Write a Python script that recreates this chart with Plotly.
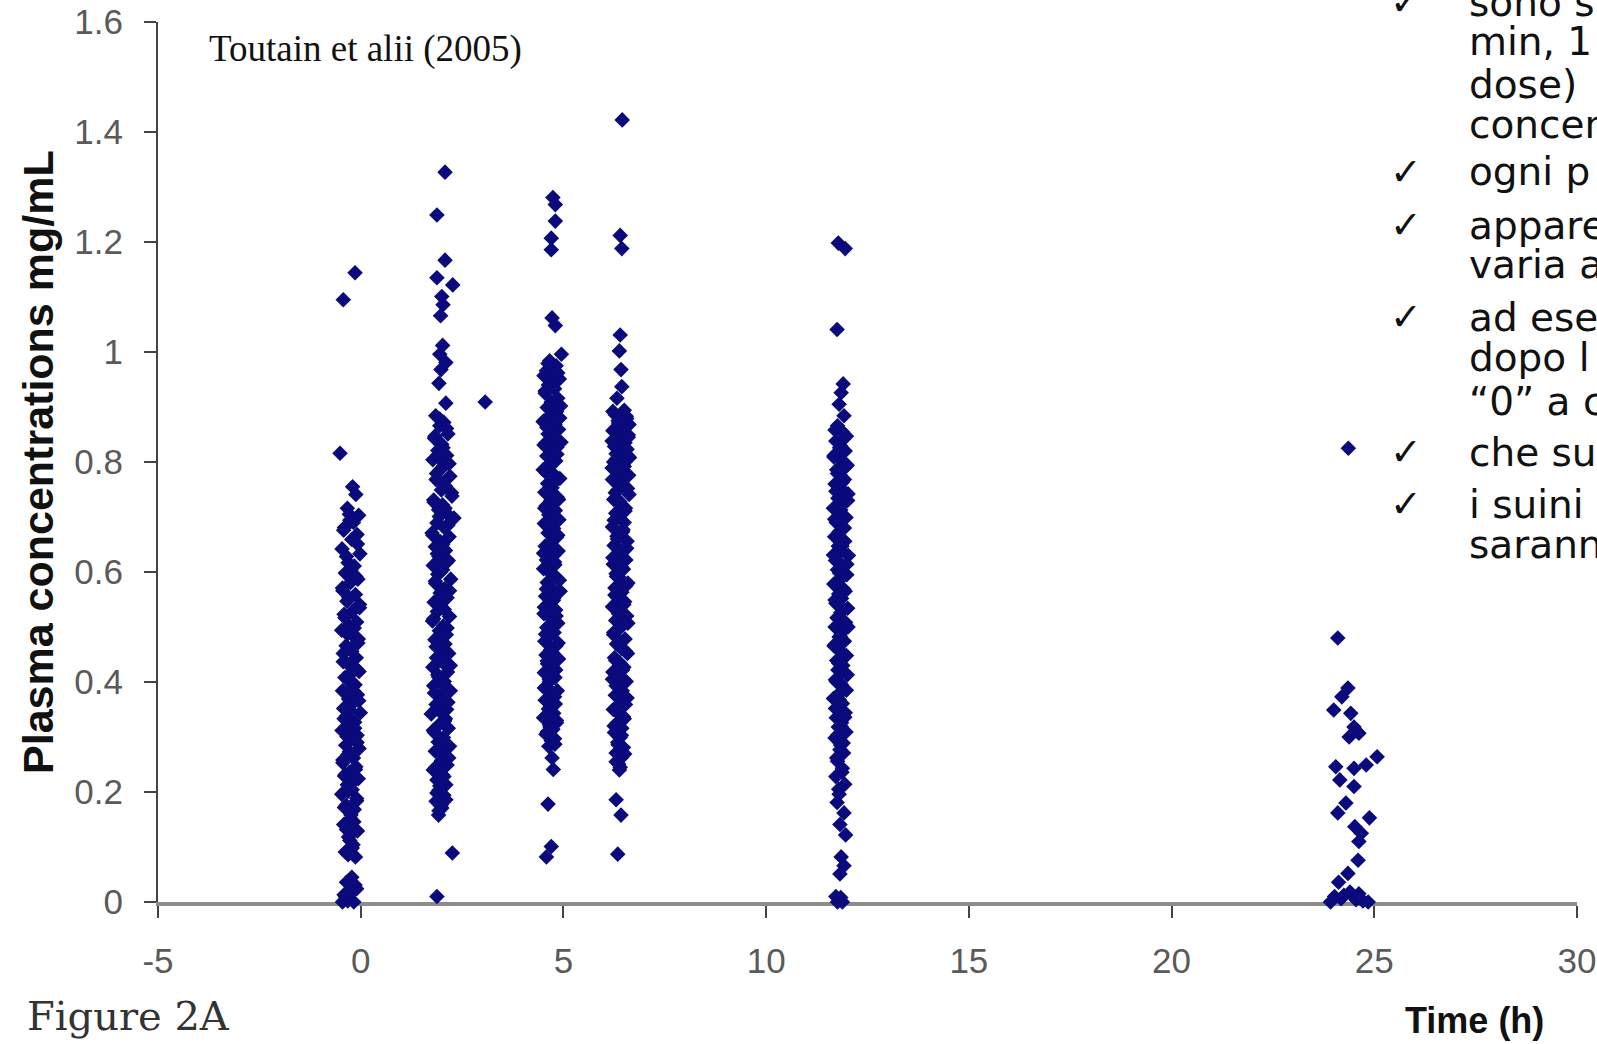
import plotly.graph_objects as go

# ---------------- data ----------------
A_time = [-0.14, -0.43, -0.51, -0.20, -0.12, -0.33, -0.05, -0.27, -0.40, -0.09,
          -0.22, -0.46, -0.02, -0.31, -0.16, -0.38, -0.07, -0.25, -0.44, -0.13,
          -0.34, -0.03, -0.21, -0.41, -0.10, -0.29, -0.47, -0.17, -0.06, -0.36,
          -0.24, -0.43, -0.11, -0.32, -0.19, -0.04, -0.39, -0.26, -0.14, -0.45,
          -0.08, -0.30, -0.20, -0.42, -0.01, -0.35, -0.15, -0.27, -0.46, -0.09,
          -0.23, -0.37, -0.04, -0.31, -0.18, -0.44, -0.12, -0.28, -0.40, -0.06,
          -0.33, -0.21, -0.47, -0.10, -0.36, -0.16, -0.25, -0.42, -0.08, -0.30,
          -0.19, -0.38, -0.13, -0.22, -0.35, -0.10, -0.41, -0.28, -0.17, -0.32,
          -0.45, -0.24, -0.37, -0.14]
A_conc = [1.144, 1.095, 0.816, 0.755, 0.741, 0.716, 0.703, 0.694, 0.681, 0.668,
          0.659, 0.642, 0.633, 0.617, 0.611, 0.598, 0.587, 0.581, 0.566, 0.559,
          0.547, 0.541, 0.528, 0.523, 0.509, 0.502, 0.494, 0.483, 0.478, 0.466,
          0.461, 0.452, 0.444, 0.433, 0.428, 0.419, 0.408, 0.401, 0.395, 0.384,
          0.377, 0.369, 0.361, 0.352, 0.344, 0.338, 0.327, 0.319, 0.312, 0.303,
          0.296, 0.285, 0.279, 0.268, 0.262, 0.253, 0.246, 0.236, 0.229, 0.224,
          0.213, 0.204, 0.196, 0.188, 0.176, 0.168, 0.152, 0.141, 0.129, 0.118,
          0.104, 0.091, 0.082, 0.045, 0.036, 0.024, 0.013, 0.006, 0.000, 0.002,
          0.000, 0.017, 0.009, 0.031]
A2_time = [-0.28, -0.18, -0.42, -0.08, -0.35, -0.24, -0.12, -0.45, -0.29, -0.03,
           -0.39, -0.16, -0.33, -0.07, -0.22, -0.43, -0.11, -0.30, -0.19, -0.37,
           -0.05, -0.26, -0.41, -0.15, -0.34, -0.09, -0.28, -0.44, -0.13, -0.38,
           -0.20, -0.32, -0.10, -0.40, -0.24, -0.17, -0.35, -0.27, -0.21, -0.31]
A2_conc = [0.705, 0.690, 0.676, 0.651, 0.628, 0.604, 0.592, 0.571, 0.553, 0.535,
           0.517, 0.498, 0.487, 0.471, 0.456, 0.437, 0.424, 0.411, 0.392, 0.381,
           0.366, 0.348, 0.333, 0.316, 0.301, 0.290, 0.273, 0.258, 0.241, 0.232,
           0.218, 0.201, 0.184, 0.172, 0.158, 0.146, 0.132, 0.112, 0.098, 0.086]

B_time = [2.08, 1.88, 2.08, 1.88, 2.27, 2.00, 2.03, 1.97, 2.02, 1.95,
          2.10, 1.98, 1.93, 2.10, 1.85, 2.05, 1.95, 2.15, 1.82, 2.00,
          1.90, 2.12, 1.78, 2.05, 1.96, 2.20, 1.86, 2.08, 1.99, 2.25,
          1.80, 2.02, 1.92, 2.14, 2.30, 1.88, 2.06, 1.76, 2.18, 1.97,
          1.84, 2.09, 1.93, 2.16, 1.79, 2.02, 1.90, 2.22, 1.85, 2.07,
          1.96, 2.13, 1.81, 2.00, 1.89, 2.19, 1.77, 2.04, 1.94, 2.11,
          1.83, 2.08, 1.98, 2.17, 1.87, 2.03, 1.78, 2.14, 1.92, 2.06,
          1.80, 2.21, 1.95, 2.01, 1.86, 2.12, 1.74, 2.09, 1.97, 2.16,
          1.82, 2.04, 1.91, 2.19, 1.84, 2.07, 1.99, 2.13, 1.79, 2.02,
          1.88, 2.10, 1.93, 2.05, 1.86, 2.00, 1.92, 2.26, 1.88]
B_conc = [1.327, 1.249, 1.167, 1.135, 1.122, 1.101, 1.086, 1.066, 1.012, 0.996,
          0.981, 0.968, 0.943, 0.907, 0.884, 0.872, 0.866, 0.851, 0.843, 0.832,
          0.821, 0.812, 0.804, 0.793, 0.786, 0.774, 0.768, 0.757, 0.749, 0.738,
          0.731, 0.722, 0.713, 0.705, 0.698, 0.689, 0.681, 0.671, 0.664, 0.655,
          0.646, 0.639, 0.628, 0.621, 0.612, 0.604, 0.596, 0.587, 0.579, 0.570,
          0.562, 0.553, 0.545, 0.536, 0.528, 0.519, 0.511, 0.502, 0.493, 0.486,
          0.477, 0.469, 0.460, 0.452, 0.444, 0.435, 0.427, 0.418, 0.409, 0.401,
          0.393, 0.384, 0.376, 0.367, 0.359, 0.350, 0.342, 0.333, 0.325, 0.316,
          0.308, 0.299, 0.291, 0.283, 0.274, 0.266, 0.257, 0.249, 0.240, 0.231,
          0.222, 0.213, 0.203, 0.194, 0.183, 0.171, 0.158, 0.089, 0.010]
B2_time = [1.95, 2.12, 1.83, 2.03, 1.91, 2.18, 1.87, 2.00, 2.24, 1.81,
           2.08, 1.94, 2.15, 1.78, 2.02, 1.89, 2.11, 1.97, 1.84, 2.19,
           1.93, 2.06, 1.80, 2.13, 1.98, 1.86, 2.09, 2.21, 1.90, 2.04,
           1.82, 2.15, 1.96, 2.07, 1.79, 2.01, 1.92, 2.17, 1.85, 2.05,
           1.95, 1.88, 2.10, 1.98, 1.93]
B2_conc = [0.878, 0.861, 0.847, 0.826, 0.809, 0.797, 0.779, 0.762, 0.744, 0.727,
           0.716, 0.701, 0.685, 0.667, 0.650, 0.633, 0.617, 0.600, 0.583, 0.566,
           0.549, 0.532, 0.515, 0.498, 0.481, 0.464, 0.447, 0.430, 0.413, 0.396,
           0.380, 0.363, 0.346, 0.329, 0.312, 0.295, 0.278, 0.262, 0.245, 0.228,
           0.211, 0.198, 0.186, 0.175, 0.166]

C_time = [4.74, 4.80, 4.80, 4.70, 4.70, 4.72, 4.80, 4.95, 4.66, 4.82,
          4.58, 4.75, 4.90, 4.63, 4.78, 4.55, 4.86, 4.70, 4.60, 4.83,
          4.67, 4.52, 4.79, 4.88, 4.62, 4.74, 4.56, 4.84, 4.69, 4.59,
          4.81, 4.65, 4.50, 4.77, 4.91, 4.61, 4.72, 4.54, 4.85, 4.68,
          4.57, 4.80, 4.64, 4.89, 4.53, 4.76, 4.62, 4.83, 4.70, 4.55,
          4.87, 4.66, 4.58, 4.79, 4.51, 4.73, 4.84, 4.60, 4.69, 4.92,
          4.56, 4.75, 4.63, 4.81, 4.52, 4.71, 4.86, 4.59, 4.77, 4.65,
          4.54, 4.82, 4.68, 4.57, 4.88, 4.61, 4.74, 4.53, 4.79, 4.66,
          4.58, 4.85, 4.70, 4.55, 4.80, 4.63, 4.76, 4.51, 4.83, 4.67,
          4.60, 4.78, 4.64, 4.72, 4.75, 4.62, 4.70, 4.58]
C_conc = [1.281, 1.268, 1.238, 1.207, 1.186, 1.062, 1.048, 0.996, 0.984, 0.975,
          0.966, 0.958, 0.951, 0.940, 0.933, 0.925, 0.916, 0.909, 0.899, 0.892,
          0.884, 0.875, 0.868, 0.859, 0.851, 0.843, 0.834, 0.827, 0.818, 0.811,
          0.802, 0.794, 0.786, 0.777, 0.770, 0.761, 0.753, 0.745, 0.736, 0.729,
          0.720, 0.712, 0.704, 0.695, 0.688, 0.679, 0.671, 0.663, 0.654, 0.647,
          0.638, 0.630, 0.622, 0.613, 0.606, 0.597, 0.589, 0.581, 0.572, 0.565,
          0.556, 0.548, 0.540, 0.531, 0.524, 0.515, 0.507, 0.499, 0.490, 0.483,
          0.474, 0.466, 0.458, 0.449, 0.442, 0.433, 0.425, 0.417, 0.408, 0.401,
          0.392, 0.384, 0.376, 0.367, 0.360, 0.351, 0.343, 0.335, 0.326, 0.318,
          0.309, 0.297, 0.283, 0.262, 0.241, 0.178, 0.101, 0.082]
C2_time = [4.62, 4.86, 4.71, 4.55, 4.79, 4.66, 4.91, 4.59, 4.75, 4.52,
           4.84, 4.68, 4.57, 4.80, 4.63, 4.88, 4.54, 4.73, 4.61, 4.86,
           4.69, 4.51, 4.78, 4.64, 4.90, 4.58, 4.76, 4.53, 4.82, 4.67,
           4.56, 4.87, 4.72, 4.60, 4.81, 4.65, 4.53, 4.78, 4.69, 4.59,
           4.83, 4.66, 4.74, 4.57, 4.70, 4.79, 4.93, 4.50, 4.94, 4.52]
C2_conc = [0.979, 0.962, 0.945, 0.929, 0.912, 0.897, 0.880, 0.863, 0.846, 0.831,
           0.814, 0.798, 0.781, 0.765, 0.748, 0.732, 0.716, 0.699, 0.683, 0.667,
           0.650, 0.634, 0.618, 0.601, 0.585, 0.569, 0.552, 0.536, 0.520, 0.503,
           0.487, 0.471, 0.454, 0.438, 0.422, 0.405, 0.389, 0.373, 0.356, 0.340,
           0.330, 0.322, 0.314, 0.305, 0.293, 0.287, 0.902, 0.873, 0.836, 0.957]

D_time = [6.45, 6.40, 6.44, 6.40, 6.38, 6.42, 6.44, 6.32, 6.50, 6.28,
          6.56, 6.36, 6.47, 6.22, 6.60, 6.33, 6.52, 6.26, 6.43, 6.58,
          6.30, 6.48, 6.20, 6.38, 6.55, 6.27, 6.45, 6.34, 6.62, 6.24,
          6.41, 6.53, 6.29, 6.37, 6.50, 6.21, 6.46, 6.32, 6.57, 6.25,
          6.42, 6.35, 6.54, 6.23, 6.48, 6.30, 6.40, 6.59, 6.27, 6.44,
          6.33, 6.51, 6.21, 6.38, 6.56, 6.29, 6.46, 6.35, 6.24, 6.52,
          6.31, 6.43, 6.58, 6.26, 6.39, 6.49, 6.22, 6.36, 6.55, 6.30,
          6.45, 6.28, 6.41, 6.53, 6.23, 6.37, 6.50, 6.32, 6.44, 6.26,
          6.40, 6.34, 6.48, 6.30, 6.42, 6.36, 6.38, 6.30, 6.42, 6.34]
D_conc = [1.422, 1.212, 1.188, 1.031, 1.002, 0.968, 0.937, 0.916, 0.894, 0.886,
          0.879, 0.871, 0.864, 0.857, 0.849, 0.842, 0.835, 0.828, 0.820, 0.812,
          0.805, 0.797, 0.789, 0.781, 0.773, 0.765, 0.757, 0.749, 0.741, 0.732,
          0.724, 0.716, 0.707, 0.699, 0.690, 0.682, 0.673, 0.665, 0.656, 0.648,
          0.639, 0.631, 0.622, 0.614, 0.605, 0.597, 0.588, 0.580, 0.571, 0.563,
          0.554, 0.546, 0.537, 0.529, 0.520, 0.512, 0.503, 0.495, 0.486, 0.478,
          0.469, 0.461, 0.452, 0.444, 0.435, 0.427, 0.418, 0.410, 0.401, 0.393,
          0.384, 0.376, 0.367, 0.359, 0.350, 0.342, 0.333, 0.325, 0.316, 0.308,
          0.299, 0.290, 0.281, 0.271, 0.262, 0.251, 0.240, 0.186, 0.158, 0.087]
D2_time = [6.22, 6.55, 6.35, 6.62, 6.27, 6.46, 6.60, 6.20, 6.40, 6.57,
           6.30, 6.63, 6.24, 6.50, 6.36, 6.61, 6.21, 6.45, 6.58, 6.28,
           6.39, 6.52, 6.25, 6.47, 6.33, 6.56, 6.22, 6.43, 6.31, 6.54,
           6.27, 6.49, 6.36, 6.59, 6.24, 6.41, 6.53, 6.29, 6.46, 6.21,
           6.38, 6.57, 6.32, 6.48, 6.25, 6.43, 6.35, 6.51, 6.30, 6.40]
D2_conc = [0.892, 0.883, 0.875, 0.868, 0.860, 0.853, 0.845, 0.838, 0.830, 0.823,
           0.815, 0.808, 0.800, 0.792, 0.784, 0.776, 0.768, 0.760, 0.752, 0.744,
           0.728, 0.711, 0.694, 0.677, 0.660, 0.643, 0.626, 0.609, 0.592, 0.575,
           0.558, 0.541, 0.524, 0.507, 0.490, 0.473, 0.456, 0.439, 0.422, 0.405,
           0.388, 0.371, 0.354, 0.337, 0.320, 0.303, 0.286, 0.269, 0.255, 0.245]

E_time = [11.78, 11.95, 11.75, 11.90, 11.85, 11.80, 11.92, 11.76, 11.88, 11.98,
          11.72, 11.84, 11.95, 11.68, 11.87, 12.00, 11.74, 11.82, 11.93, 11.70,
          11.86, 12.02, 11.77, 11.90, 11.66, 11.83, 11.97, 11.73, 11.89, 11.80,
          11.69, 11.94, 11.78, 11.85, 12.03, 11.71, 11.88, 11.76, 11.99, 11.82,
          11.67, 11.91, 11.79, 11.86, 11.72, 12.01, 11.84, 11.75, 11.96, 11.70,
          11.87, 11.80, 11.93, 11.68, 11.83, 11.98, 11.74, 11.89, 11.77, 12.00,
          11.71, 11.85, 11.92, 11.79, 11.66, 11.88, 11.81, 11.95, 11.73, 11.86,
          11.78, 11.97, 11.70, 11.84, 11.91, 11.76, 11.88, 11.72, 11.94, 11.80,
          11.75, 11.92, 11.82, 11.96, 11.85, 11.92, 11.82, 11.72, 11.80, 11.88,
          11.76, 11.84]
E_conc = [1.198, 1.188, 1.041, 0.942, 0.926, 0.905, 0.884, 0.866, 0.855, 0.847,
          0.838, 0.829, 0.820, 0.812, 0.803, 0.794, 0.786, 0.777, 0.768, 0.760,
          0.751, 0.742, 0.734, 0.725, 0.716, 0.708, 0.699, 0.690, 0.682, 0.673,
          0.664, 0.656, 0.647, 0.638, 0.630, 0.621, 0.612, 0.604, 0.595, 0.586,
          0.578, 0.569, 0.560, 0.552, 0.543, 0.534, 0.526, 0.517, 0.508, 0.500,
          0.491, 0.482, 0.474, 0.465, 0.456, 0.448, 0.439, 0.430, 0.422, 0.413,
          0.404, 0.396, 0.387, 0.378, 0.370, 0.361, 0.352, 0.344, 0.335, 0.326,
          0.318, 0.309, 0.298, 0.285, 0.271, 0.256, 0.243, 0.228, 0.214, 0.196,
          0.181, 0.162, 0.141, 0.122, 0.082, 0.066, 0.051, 0.010, 0.004, 0.000,
          0.000, 0.008]
E2_time = [11.70, 11.92, 11.81, 11.67, 11.97, 11.76, 11.88, 11.72, 12.01, 11.84,
           11.69, 11.93, 11.78, 11.87, 11.66, 11.99, 11.81, 11.74, 11.95, 11.70,
           11.89, 11.77, 12.02, 11.83, 11.68, 11.91, 11.79, 11.86, 11.73, 11.98,
           11.80, 11.71, 11.94, 11.85, 11.76, 11.90, 11.82, 11.74, 11.87, 11.79]
E2_conc = [0.858, 0.843, 0.826, 0.809, 0.792, 0.779, 0.763, 0.747, 0.730, 0.713,
           0.696, 0.680, 0.664, 0.647, 0.631, 0.614, 0.598, 0.582, 0.565, 0.549,
           0.532, 0.516, 0.500, 0.483, 0.467, 0.450, 0.434, 0.418, 0.401, 0.385,
           0.368, 0.352, 0.336, 0.319, 0.303, 0.289, 0.277, 0.262, 0.236, 0.205]

F_time = [24.10, 24.35, 24.20, 24.00, 24.42, 24.50, 24.62, 24.38, 25.07, 24.80,
          24.05, 24.50, 24.15, 24.50, 24.30, 24.10, 24.88, 24.52, 24.68, 24.62,
          24.60, 24.35, 24.12, 24.40, 24.02, 24.55, 23.92, 24.25, 24.72, 24.85,
          24.18, 24.62]
F_conc = [0.480, 0.389, 0.373, 0.349, 0.343, 0.318, 0.307, 0.300, 0.264, 0.249,
          0.246, 0.243, 0.222, 0.210, 0.180, 0.162, 0.153, 0.137, 0.125, 0.110,
          0.076, 0.052, 0.036, 0.018, 0.010, 0.004, 0.000, 0.012, 0.002, 0.000,
          0.006, 0.015]

outlier_time = [3.07, 24.36]
outlier_conc = [0.909, 0.825]

x_tickvals = [-5, 0, 5, 10, 15, 20, 25, 30]
x_ticktext = ["-5", "0", "5", "10", "15", "20", "25", "30"]
y_tickvals = [0, 0.2, 0.4, 0.6, 0.8, 1.0, 1.2, 1.4, 1.6]
y_ticktext = ["0", "0.2", "0.4", "0.6", "0.8", "1", "1.2", "1.4", "1.6"]

side_lines = ["sono s", "min, 1", "dose)", "concen", "ogni p", "appare",
              "varia a", "ad ese", "dopo l", "\u201c0\u201d a c", "che su",
              "i suini", "sarann"]
side_checked = [True, False, False, False, True, True,
                False, True, False, False, True, True, False]

# ---------------- figure ----------------
W, H = 1597, 1044
L, R, T, B = 158, 20, 22, 142
PW, PH = W - L - R, H - T - B


def px_x(p):
    return (p - L) / PW


def px_y(p):
    return (H - B - p) / PH


all_time = (A_time + A2_time + B_time + B2_time + C_time + C2_time +
            D_time + D2_time + E_time + E2_time + F_time + outlier_time)
all_conc = (A_conc + A2_conc + B_conc + B2_conc + C_conc + C2_conc +
            D_conc + D2_conc + E_conc + E2_conc + F_conc + outlier_conc)

fig = go.Figure()
fig.add_trace(go.Scatter(
    x=all_time, y=all_conc, mode="markers",
    marker=dict(symbol="diamond", size=12, color="#0a0a7c", line=dict(width=0)),
    cliponaxis=False, hoverinfo="skip", showlegend=False,
))

tick_font = dict(family="Liberation Sans, Arial, sans-serif", size=35, color="#5a5a5a")

fig.update_layout(
    width=W, height=H,
    margin=dict(l=L, r=R, t=T, b=B, pad=0, autoexpand=False),
    paper_bgcolor="white", plot_bgcolor="white",
    xaxis=dict(range=[-5, 30], tickvals=x_tickvals, ticktext=x_ticktext,
               showgrid=False, zeroline=False, showline=True, automargin=False,
               linecolor="#8c8c8c", linewidth=4, ticks="outside", ticklen=12,
               tickwidth=2, tickcolor="#444", tickfont=tick_font,
               ticklabelstandoff=13, layer="below traces", fixedrange=True),
    yaxis=dict(range=[0, 1.6], tickvals=y_tickvals, ticktext=y_ticktext,
               showgrid=False, zeroline=False, showline=True, automargin=False,
               linecolor="#444", linewidth=2, ticks="outside", ticklen=12,
               tickwidth=2, tickcolor="#444", tickfont=tick_font,
               ticklabelstandoff=14, layer="below traces", fixedrange=True),
)

ann = []
ann.append(dict(text="<b>Plasma concentrations mg/mL</b>", textangle=-90,
                x=px_x(38), y=px_y(462), xref="paper", yref="paper",
                xanchor="center", yanchor="middle", showarrow=False,
                font=dict(family="Liberation Sans, Arial, sans-serif", size=43, color="#111")))
ann.append(dict(text="<b>Time (h)</b>", x=px_x(1474), y=px_y(1020),
                xref="paper", yref="paper", xanchor="center", yanchor="middle",
                showarrow=False,
                font=dict(family="Liberation Sans, Arial, sans-serif", size=36, color="#111")))
ann.append(dict(text="Figure 2A", x=px_x(128), y=px_y(1016),
                xref="paper", yref="paper", xanchor="center", yanchor="middle",
                showarrow=False,
                font=dict(family="DejaVu Serif, serif", size=40, color="#333")))
ann.append(dict(text="Toutain et alii (2005)", x=px_x(365), y=px_y(49),
                xref="paper", yref="paper", xanchor="center", yanchor="middle",
                showarrow=False,
                font=dict(family="Liberation Serif, Times New Roman, serif", size=37, color="#111")))

line_centers = [2, 42, 85, 124, 172, 225, 264, 317, 357, 402, 452, 504, 544]
side_font = dict(family="DejaVu Sans, Verdana, sans-serif", size=39, color="#111")
for txt, chk, cy in zip(side_lines, side_checked, line_centers):
    ann.append(dict(text=txt, x=px_x(1467), y=px_y(cy), xref="paper", yref="paper",
                    xanchor="left", yanchor="middle", showarrow=False, font=side_font))
    if chk:
        ann.append(dict(text="\u2713", x=px_x(1406), y=px_y(cy), xref="paper", yref="paper",
                        xanchor="center", yanchor="middle", showarrow=False,
                        font=dict(family="DejaVu Sans, sans-serif", size=38, color="#111")))

fig.update_layout(annotations=ann)
fig.write_html("out.html", config=dict(displayModeBar=False))
